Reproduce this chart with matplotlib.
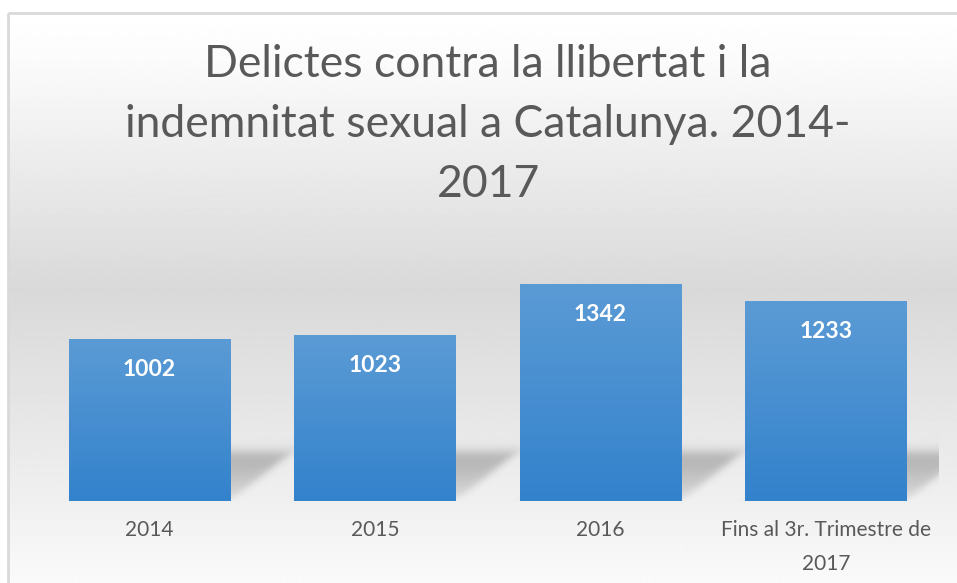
import numpy as np
import matplotlib
matplotlib.use("Agg")
from matplotlib import pyplot as plt
from matplotlib.patches import Rectangle
from matplotlib.colors import to_rgb

categories = ['2014', '2015', '2016', 'Fins al 3r. Trimestre de\n2017']
values = [1002, 1023, 1342, 1233]
title = 'Delictes contra la llibertat i la\nindemnitat sexual a Catalunya. 2014-\n2017'

plt.rcParams['font.family'] = ['Lato', 'DejaVu Sans']
text_grey = '#595959'

W, H = 957, 583
fig = plt.figure(figsize=(W / 100, H / 100), dpi=100)
fig.patch.set_facecolor('white')

# background of the chart area (pixel coordinates)
bg = fig.add_axes([0, 0, 1, 1], zorder=0)
bg.set_xlim(0, W)
bg.set_ylim(H, 0)
bg.axis('off')
stops_y = [13, 60, 290, 501, 583]
stops_c = [1.0, 0.985, 0.85, 0.94, 0.98]
yy = np.arange(13, H + 1)
grey = np.interp(yy, stops_y, stops_c)
img = np.repeat(grey[:, None], 2, axis=1)
bg.imshow(img, cmap='gray', vmin=0, vmax=1, extent=[8, W + 20, H, 13],
          aspect='auto', interpolation='bilinear')
bg.add_patch(Rectangle((8, 13), W + 20, H, fill=False, edgecolor='#d9d9d9', lw=2))

# plot area
px_left, px_right, px_base, px_top = 36.75, 938.75, 501, 250
ymax = 1550
ax = fig.add_axes([px_left / W, (H - px_base) / H, (px_right - px_left) / W,
                   (px_base - px_top) / H], zorder=1)
ax.set_facecolor('none')
ax.set_xlim(-0.5, len(values) - 0.5)
ax.set_ylim(0, ymax)
for s in ax.spines.values():
    s.set_visible(False)
ax.set_yticks([])

x = np.arange(len(values))
width = 0.714
bars = ax.bar(x, values, width=width, color='none', edgecolor='none', zorder=3)

# perspective shadows behind the bars
px_per_x = (px_right - px_left) / (len(values))
px_per_y = (px_base - px_top) / ymax
gx = np.linspace(-0.5, len(values) - 0.5, 1200)
gy = np.linspace(0, 450, 200)
GX, GY = np.meshgrid(gx, gy)
sig = lambda t: 1 / (1 + np.exp(-t))
dx, dy, blur = 0.27, 300, 3.5
alpha = np.zeros_like(GX)
for xi in x:
    xl, xr = xi - width / 2, xi + width / 2
    u = GX - GY / dy * dx
    cov = (sig((u - xl) * px_per_x / blur) * sig((xr - u) * px_per_x / blur)
           * sig(GY * px_per_y / blur) * sig((dy - GY) * px_per_y / blur))
    alpha += cov * (0.09 + 0.18 * np.clip(GY / dy, 0, 1))
shadow = np.zeros(GX.shape + (4,))
shadow[..., 3] = np.clip(alpha, 0, 1)
ax.imshow(shadow, extent=[gx[0], gx[-1], gy[0], gy[-1]], origin='lower',
          aspect='auto', zorder=2, interpolation='bilinear')

# gradient fill for bars
c_top, c_bot = np.array(to_rgb('#5b9bd5')), np.array(to_rgb('#3382cc'))
t = np.linspace(0, 1, 100)[:, None]
grad = (c_bot * (1 - t) + c_top * t)[:, None, :]
for b, v in zip(bars, values):
    im = ax.imshow(grad, extent=[b.get_x(), b.get_x() + b.get_width(), 0, v],
                   origin='lower', aspect='auto', zorder=3, interpolation='bilinear')
    im.set_clip_path(b)
    ax.annotate(str(v), (b.get_x() + b.get_width() / 2, v), xytext=(0, -22),
                textcoords='offset points', ha='center', va='center',
                color='white', fontsize=16.5, fontweight='bold', zorder=4)
ax.set_xlim(-0.5, len(values) - 0.5)
ax.set_ylim(0, ymax)

ax.set_xticks(x)
ax.set_xticklabels(categories, fontsize=15, color=text_grey, linespacing=1.85)
ax.tick_params(axis='x', length=0, pad=14)

fig.text(488 / W, 1 - 44 / H, title, ha='center', va='top', fontsize=32,
         color=text_grey, linespacing=1.58)

fig.savefig('out.png', dpi=100)
